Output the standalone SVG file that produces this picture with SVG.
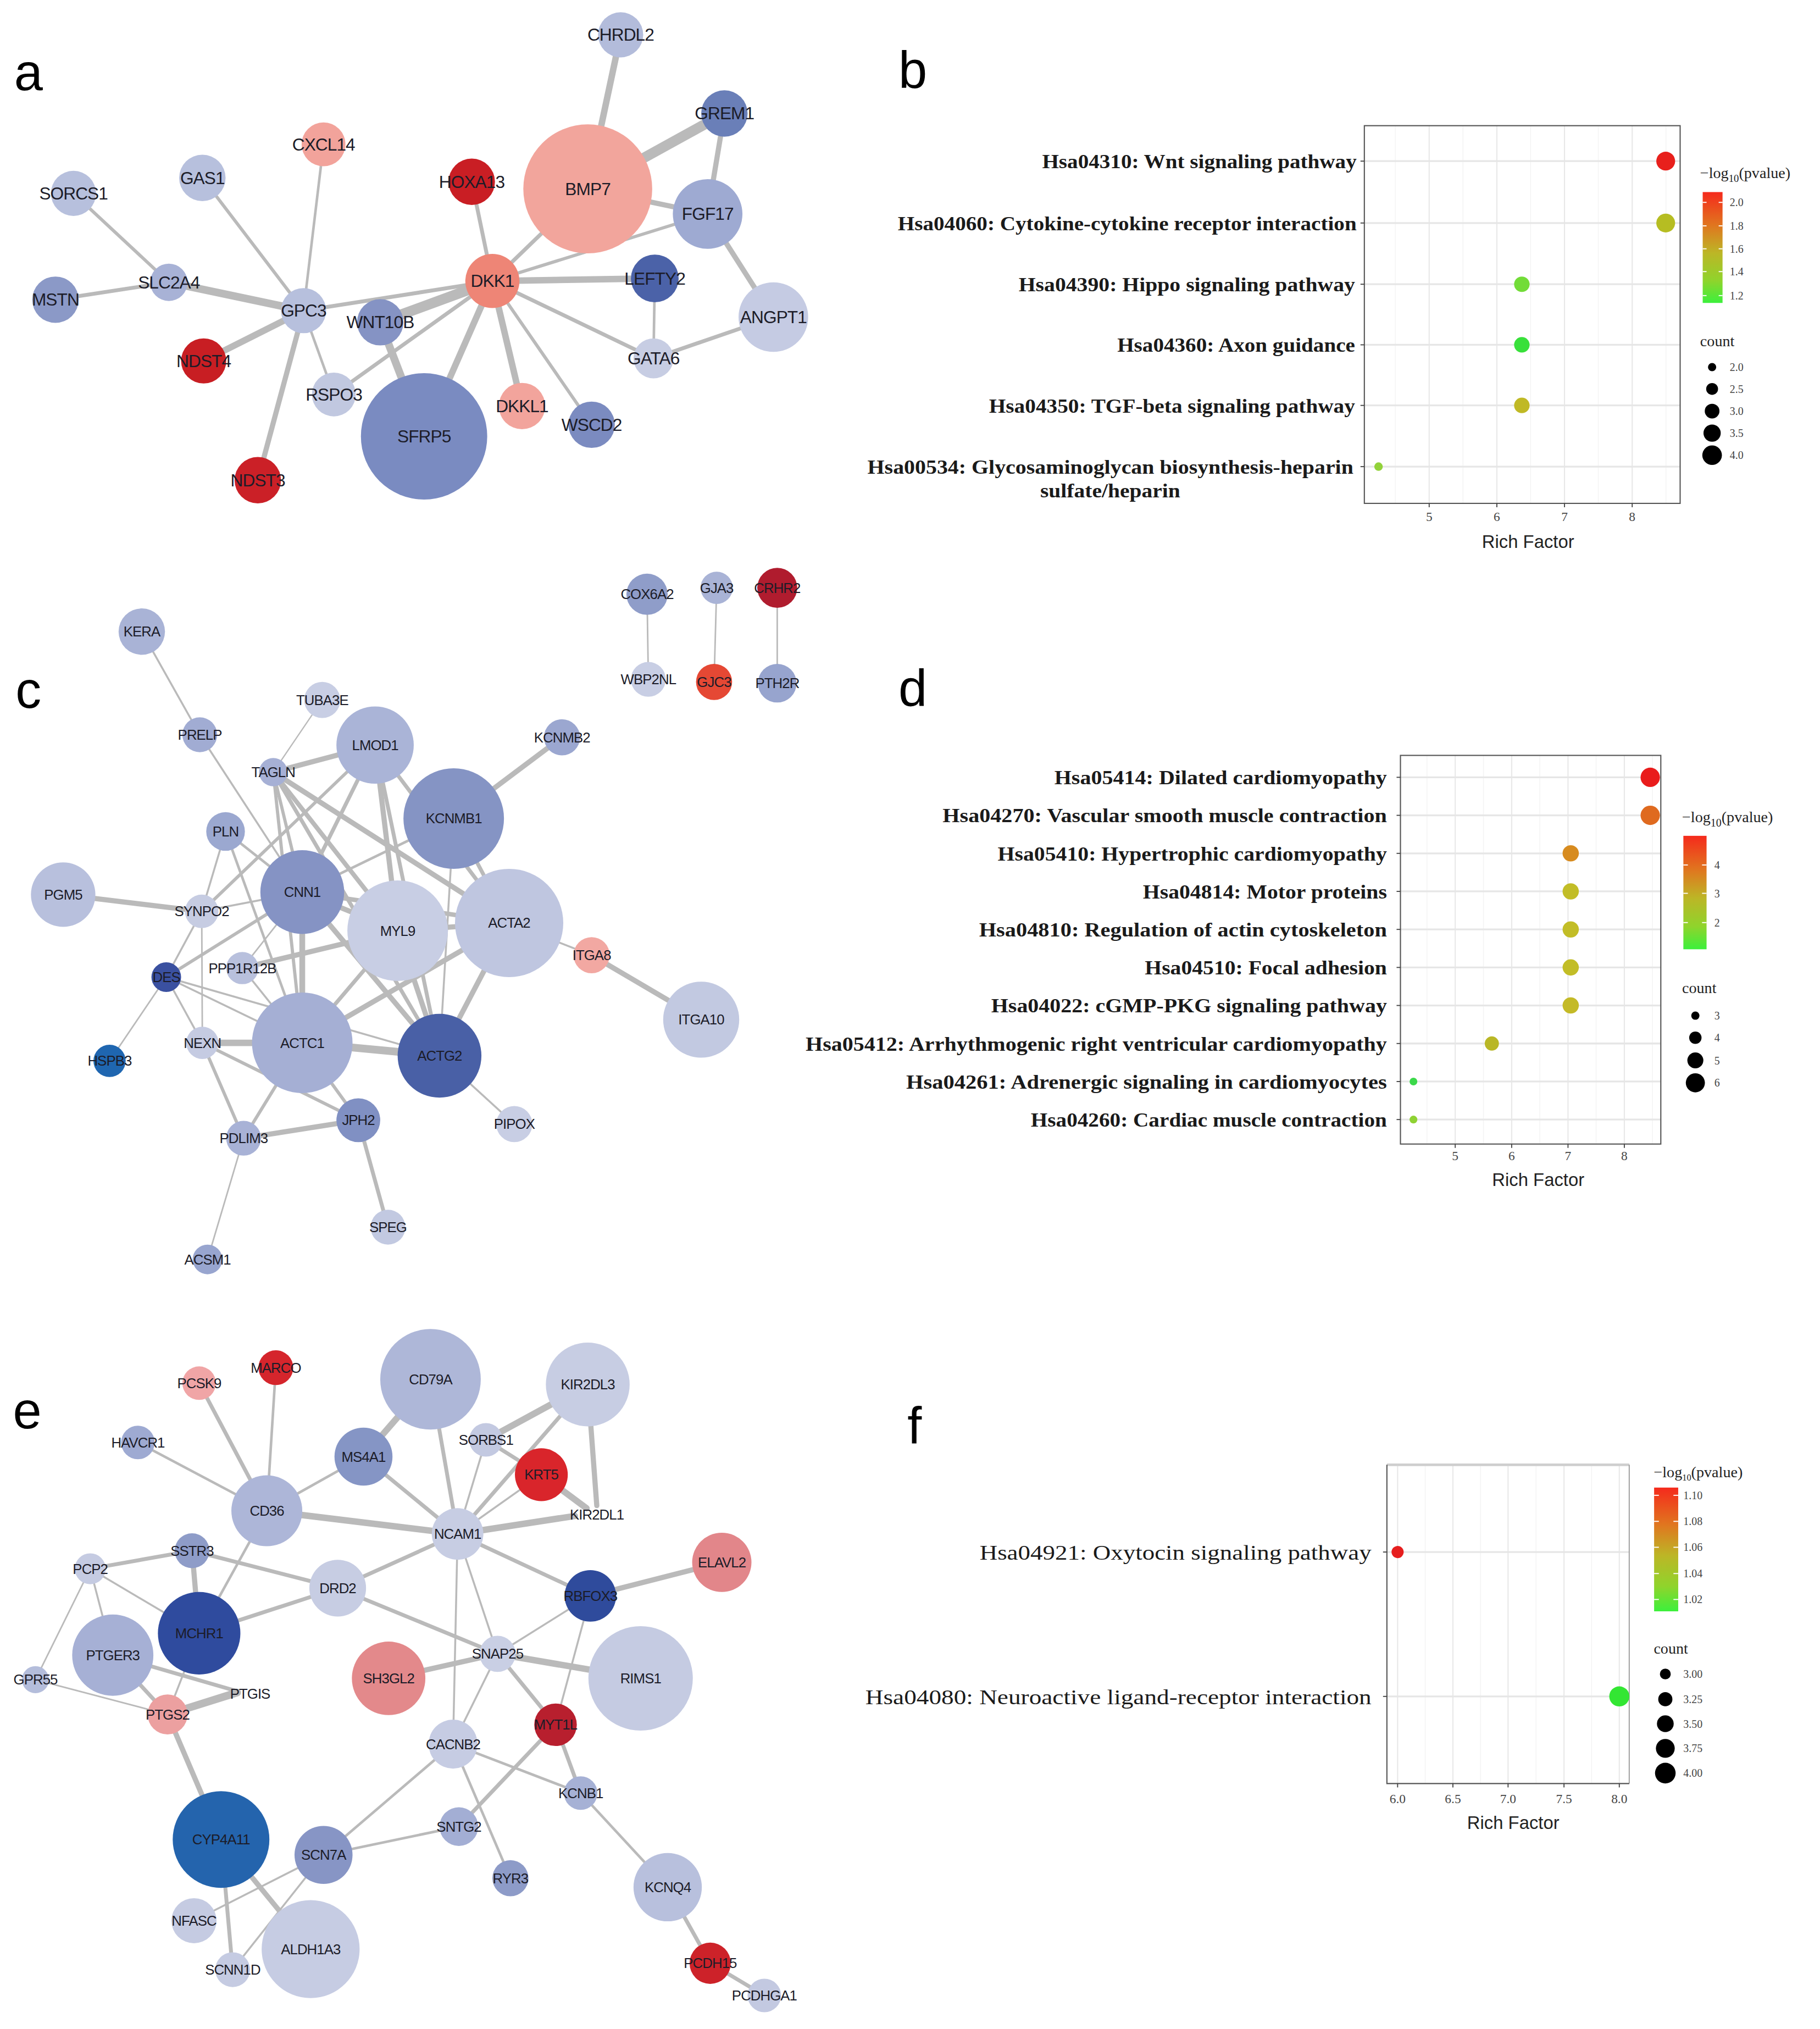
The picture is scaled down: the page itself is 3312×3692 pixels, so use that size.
<svg xmlns="http://www.w3.org/2000/svg" width="3312" height="3692" viewBox="0 0 3312 3692">
<style>
.cn line{stroke:#bababa;stroke-linecap:round}
.nd text{font-family:"Liberation Sans",Arial,sans-serif;text-anchor:middle;dominant-baseline:central;fill:#1c1c28;letter-spacing:-0.4px}
.na text{font-size:13.5px}
.nc text,.ne text{font-size:11px}
.pl{font-family:"Liberation Sans",Arial,sans-serif;font-size:40px;fill:#000}
.lab{font-family:"Liberation Serif","Times New Roman",serif;font-weight:bold;font-size:15.5px;text-anchor:end;fill:#1a1a1a}
.labf{font-family:"Liberation Serif","Times New Roman",serif;font-size:16.5px;text-anchor:end;fill:#1a1a1a}
.tk{font-family:"Liberation Serif","Times New Roman",serif;font-size:10px;text-anchor:middle;fill:#444}
.lg{font-family:"Liberation Serif","Times New Roman",serif;font-size:8.5px;fill:#444}
.lt{font-family:"Liberation Serif","Times New Roman",serif;font-size:12px;fill:#222}
.axt{font-family:"Liberation Sans",Arial,sans-serif;font-size:14px;text-anchor:middle;fill:#222}
.gM{stroke:#e8e8e8;stroke-width:0.9}
.gm{stroke:#f3f3f3;stroke-width:0.6}
.gr{stroke:#e6e6e6;stroke-width:1.4}
.bx{fill:none;stroke:#555;stroke-width:0.9}
.tm{stroke:#444;stroke-width:0.8}
</style>
<defs>
<linearGradient id="cb" x1="0" y1="0" x2="0" y2="1">
<stop offset="0" stop-color="#f52a1c"/>
<stop offset="0.3" stop-color="#e0761f"/>
<stop offset="0.55" stop-color="#bcb626"/>
<stop offset="0.8" stop-color="#8fd42c"/>
<stop offset="1" stop-color="#3cf03c"/>
</linearGradient>
</defs>
<rect width="3312" height="3692" fill="#fff"/>
<g transform="scale(2.3456)">

<text class="pl" x="11" y="70">a</text>
<text class="pl" x="697" y="68">b</text>
<text class="pl" x="12" y="549">c</text>
<text class="pl" x="697" y="548">d</text>
<text class="pl" x="10" y="1108">e</text>
<text class="pl" x="704" y="1120">f</text>

<g id="connectors" class="cn">
<g id="edges-a">
<line x1="481.5" y1="27" x2="456" y2="146.5" stroke-width="5"/>
<line x1="562" y1="88" x2="456" y2="146.5" stroke-width="8"/>
<line x1="562" y1="88" x2="549" y2="166" stroke-width="4"/>
<line x1="456" y1="146.5" x2="549" y2="166" stroke-width="4"/>
<line x1="549" y1="166" x2="600" y2="246" stroke-width="4"/>
<line x1="549" y1="166" x2="382" y2="218" stroke-width="2.5"/>
<line x1="456" y1="146.5" x2="382" y2="218" stroke-width="3"/>
<line x1="366" y1="141" x2="382" y2="218" stroke-width="3"/>
<line x1="382" y1="218" x2="508" y2="216" stroke-width="5"/>
<line x1="382" y1="218" x2="507" y2="278" stroke-width="3"/>
<line x1="508" y1="216" x2="507" y2="278" stroke-width="2"/>
<line x1="507" y1="278" x2="600" y2="246" stroke-width="3"/>
<line x1="382" y1="218" x2="459" y2="329.5" stroke-width="2.5"/>
<line x1="382" y1="218" x2="405" y2="315" stroke-width="5"/>
<line x1="382" y1="218" x2="329" y2="338.5" stroke-width="5"/>
<line x1="382" y1="218" x2="295" y2="250" stroke-width="8"/>
<line x1="382" y1="218" x2="235.5" y2="241" stroke-width="3"/>
<line x1="382" y1="218" x2="259" y2="306" stroke-width="3"/>
<line x1="295" y1="250" x2="329" y2="338.5" stroke-width="6"/>
<line x1="235.5" y1="241" x2="131" y2="219" stroke-width="6"/>
<line x1="131" y1="219" x2="43" y2="232.5" stroke-width="3"/>
<line x1="131" y1="219" x2="57" y2="150" stroke-width="2.5"/>
<line x1="235.5" y1="241" x2="157" y2="138" stroke-width="2.5"/>
<line x1="235.5" y1="241" x2="251" y2="112" stroke-width="2"/>
<line x1="235.5" y1="241" x2="158" y2="280" stroke-width="5"/>
<line x1="235.5" y1="241" x2="200" y2="372.5" stroke-width="4"/>
<line x1="235.5" y1="241" x2="259" y2="306" stroke-width="2"/>
</g>
<g id="edges-c">
<line x1="502" y1="461" x2="503" y2="527" stroke-width="1.2"/>
<line x1="556" y1="456" x2="554" y2="529" stroke-width="1.2"/>
<line x1="603" y1="456" x2="603" y2="530" stroke-width="1.2"/>
<line x1="110" y1="490" x2="155" y2="570" stroke-width="1.5"/>
<line x1="155" y1="570" x2="234.5" y2="692" stroke-width="1.5"/>
<line x1="250" y1="543" x2="212" y2="599" stroke-width="1"/>
<line x1="212" y1="599" x2="291" y2="578" stroke-width="4"/>
<line x1="212" y1="599" x2="234.5" y2="692" stroke-width="2.5"/>
<line x1="212" y1="599" x2="308.5" y2="722" stroke-width="3.5"/>
<line x1="212" y1="599" x2="395" y2="716" stroke-width="4"/>
<line x1="212" y1="599" x2="341" y2="819" stroke-width="3"/>
<line x1="212" y1="599" x2="234.5" y2="809" stroke-width="2.5"/>
<line x1="291" y1="578" x2="234.5" y2="692" stroke-width="3"/>
<line x1="291" y1="578" x2="308.5" y2="722" stroke-width="4"/>
<line x1="291" y1="578" x2="395" y2="716" stroke-width="3"/>
<line x1="291" y1="578" x2="341" y2="819" stroke-width="3"/>
<line x1="291" y1="578" x2="156.5" y2="707" stroke-width="2.5"/>
<line x1="436" y1="572" x2="352" y2="635" stroke-width="4"/>
<line x1="352" y1="635" x2="234.5" y2="692" stroke-width="2"/>
<line x1="352" y1="635" x2="395" y2="716" stroke-width="3"/>
<line x1="352" y1="635" x2="341" y2="819" stroke-width="1.5"/>
<line x1="234.5" y1="692" x2="308.5" y2="722" stroke-width="4"/>
<line x1="234.5" y1="692" x2="395" y2="716" stroke-width="3.5"/>
<line x1="234.5" y1="692" x2="341" y2="819" stroke-width="4"/>
<line x1="234.5" y1="692" x2="234.5" y2="809" stroke-width="4.5"/>
<line x1="234.5" y1="692" x2="175" y2="645" stroke-width="2"/>
<line x1="234.5" y1="692" x2="156.5" y2="707" stroke-width="1.5"/>
<line x1="234.5" y1="692" x2="129" y2="758" stroke-width="2.5"/>
<line x1="234.5" y1="692" x2="188" y2="751" stroke-width="1.2"/>
<line x1="308.5" y1="722" x2="395" y2="716" stroke-width="4"/>
<line x1="308.5" y1="722" x2="341" y2="819" stroke-width="4"/>
<line x1="308.5" y1="722" x2="234.5" y2="809" stroke-width="3"/>
<line x1="308.5" y1="722" x2="188" y2="751" stroke-width="4"/>
<line x1="395" y1="716" x2="341" y2="819" stroke-width="4"/>
<line x1="395" y1="716" x2="234.5" y2="809" stroke-width="4"/>
<line x1="395" y1="716" x2="459" y2="741" stroke-width="1.5"/>
<line x1="459" y1="741" x2="544" y2="791" stroke-width="4"/>
<line x1="234.5" y1="809" x2="341" y2="819" stroke-width="6"/>
<line x1="234.5" y1="809" x2="157" y2="809" stroke-width="5"/>
<line x1="234.5" y1="809" x2="278" y2="869" stroke-width="2.5"/>
<line x1="234.5" y1="809" x2="189" y2="883" stroke-width="2.5"/>
<line x1="234.5" y1="809" x2="129" y2="758" stroke-width="1.5"/>
<line x1="341" y1="819" x2="399" y2="872" stroke-width="1.5"/>
<line x1="341" y1="819" x2="129" y2="758" stroke-width="1.5"/>
<line x1="157" y1="809" x2="278" y2="869" stroke-width="2.5"/>
<line x1="175" y1="645" x2="156.5" y2="707" stroke-width="1.5"/>
<line x1="175" y1="645" x2="234.5" y2="809" stroke-width="2"/>
<line x1="49" y1="694" x2="156.5" y2="707" stroke-width="4"/>
<line x1="156.5" y1="707" x2="129" y2="758" stroke-width="1.5"/>
<line x1="156.5" y1="707" x2="157" y2="809" stroke-width="1.2"/>
<line x1="129" y1="758" x2="85" y2="823" stroke-width="1.2"/>
<line x1="129" y1="758" x2="157" y2="809" stroke-width="1.5"/>
<line x1="157" y1="809" x2="189" y2="883" stroke-width="2.5"/>
<line x1="189" y1="883" x2="278" y2="869" stroke-width="4"/>
<line x1="189" y1="883" x2="161" y2="977" stroke-width="1.2"/>
<line x1="278" y1="869" x2="301" y2="952" stroke-width="3"/>
<line x1="188" y1="751" x2="234.5" y2="809" stroke-width="1.5"/>
</g>
<g id="edges-e">
<line x1="154.5" y1="1073" x2="207" y2="1172" stroke-width="3"/>
<line x1="214" y1="1061" x2="207" y2="1172" stroke-width="2"/>
<line x1="107" y1="1119" x2="207" y2="1172" stroke-width="2"/>
<line x1="282" y1="1130" x2="207" y2="1172" stroke-width="2"/>
<line x1="282" y1="1130" x2="334" y2="1070" stroke-width="5"/>
<line x1="282" y1="1130" x2="355" y2="1190" stroke-width="3"/>
<line x1="334" y1="1070" x2="355" y2="1190" stroke-width="3"/>
<line x1="377" y1="1117" x2="355" y2="1190" stroke-width="1.5"/>
<line x1="377" y1="1117" x2="420" y2="1144" stroke-width="3"/>
<line x1="456" y1="1074" x2="377" y2="1117" stroke-width="5"/>
<line x1="456" y1="1074" x2="355" y2="1190" stroke-width="3"/>
<line x1="456" y1="1074" x2="463" y2="1168" stroke-width="4"/>
<line x1="420" y1="1144" x2="355" y2="1190" stroke-width="1.5"/>
<line x1="420" y1="1144" x2="455" y2="1170" stroke-width="5"/>
<line x1="355" y1="1190" x2="446" y2="1176" stroke-width="5"/>
<line x1="207" y1="1172" x2="355" y2="1190" stroke-width="5"/>
<line x1="207" y1="1172" x2="154.5" y2="1267" stroke-width="2"/>
<line x1="355" y1="1190" x2="262" y2="1232" stroke-width="3"/>
<line x1="355" y1="1190" x2="458" y2="1238" stroke-width="3"/>
<line x1="355" y1="1190" x2="386" y2="1283" stroke-width="1.5"/>
<line x1="355" y1="1190" x2="351.5" y2="1353" stroke-width="1.5"/>
<line x1="458" y1="1238" x2="560" y2="1212" stroke-width="4"/>
<line x1="458" y1="1238" x2="386" y2="1283" stroke-width="1.5"/>
<line x1="458" y1="1238" x2="431" y2="1338" stroke-width="1.5"/>
<line x1="149" y1="1203" x2="70" y2="1217" stroke-width="3"/>
<line x1="149" y1="1203" x2="154.5" y2="1267" stroke-width="4"/>
<line x1="149" y1="1203" x2="262" y2="1232" stroke-width="3"/>
<line x1="70" y1="1217" x2="154.5" y2="1267" stroke-width="1.5"/>
<line x1="70" y1="1217" x2="87.5" y2="1284" stroke-width="1.5"/>
<line x1="70" y1="1217" x2="27.5" y2="1303" stroke-width="1.2"/>
<line x1="154.5" y1="1267" x2="262" y2="1232" stroke-width="3"/>
<line x1="154.5" y1="1267" x2="130" y2="1330" stroke-width="1.5"/>
<line x1="262" y1="1232" x2="386" y2="1283" stroke-width="3"/>
<line x1="386" y1="1283" x2="301.5" y2="1302" stroke-width="4"/>
<line x1="386" y1="1283" x2="497" y2="1302" stroke-width="5"/>
<line x1="386" y1="1283" x2="431" y2="1338" stroke-width="3"/>
<line x1="386" y1="1283" x2="351.5" y2="1353" stroke-width="1.5"/>
<line x1="87.5" y1="1284" x2="184" y2="1312" stroke-width="3"/>
<line x1="87.5" y1="1284" x2="130" y2="1330" stroke-width="3"/>
<line x1="27.5" y1="1303" x2="130" y2="1330" stroke-width="1.2"/>
<line x1="130" y1="1330" x2="184" y2="1313" stroke-width="6"/>
<line x1="130" y1="1330" x2="171.5" y2="1427" stroke-width="4"/>
<line x1="351.5" y1="1353" x2="251" y2="1439" stroke-width="2"/>
<line x1="351.5" y1="1353" x2="450.5" y2="1391" stroke-width="2"/>
<line x1="351.5" y1="1353" x2="396" y2="1457" stroke-width="2"/>
<line x1="431" y1="1338" x2="356" y2="1417" stroke-width="3"/>
<line x1="431" y1="1338" x2="450.5" y2="1391" stroke-width="3"/>
<line x1="356" y1="1417" x2="251" y2="1439" stroke-width="2"/>
<line x1="450.5" y1="1391" x2="518" y2="1464" stroke-width="2"/>
<line x1="518" y1="1464" x2="551" y2="1523" stroke-width="3"/>
<line x1="551" y1="1523" x2="593" y2="1548" stroke-width="3"/>
<line x1="171.5" y1="1427" x2="241" y2="1512" stroke-width="4"/>
<line x1="171.5" y1="1427" x2="180.5" y2="1528" stroke-width="3"/>
<line x1="251" y1="1439" x2="150.5" y2="1490" stroke-width="1.5"/>
<line x1="251" y1="1439" x2="180.5" y2="1528" stroke-width="1.5"/>
</g>
</g>

<g class="nd na">
<g id="a-CHRDL2"><circle cx="481.5" cy="27" r="17.5" fill="#b3bcdb"/><text x="481.5" y="27">CHRDL2</text></g>
<g id="a-GREM1"><circle cx="562" cy="88" r="18" fill="#6a7fb8"/><text x="562" y="88">GREM1</text></g>
<g id="a-BMP7"><circle cx="456" cy="146.5" r="50" fill="#f2a59c"/><text x="456" y="146.5">BMP7</text></g>
<g id="a-FGF17"><circle cx="549" cy="166" r="27" fill="#9eaad2"/><text x="549" y="166">FGF17</text></g>
<g id="a-CXCL14"><circle cx="251" cy="112" r="17" fill="#f2a39b"/><text x="251" y="112">CXCL14</text></g>
<g id="a-HOXA13"><circle cx="366" cy="141" r="18" fill="#c91e24"/><text x="366" y="141">HOXA13</text></g>
<g id="a-GAS1"><circle cx="157" cy="138" r="18" fill="#b7c0dd"/><text x="157" y="138">GAS1</text></g>
<g id="a-SORCS1"><circle cx="57" cy="150" r="17.5" fill="#b7c0dd"/><text x="57" y="150">SORCS1</text></g>
<g id="a-SLC2A4"><circle cx="131" cy="219" r="14.5" fill="#a8b2d6"/><text x="131" y="219">SLC2A4</text></g>
<g id="a-MSTN"><circle cx="43" cy="232.5" r="18" fill="#8b99c7"/><text x="43" y="232.5">MSTN</text></g>
<g id="a-GPC3"><circle cx="235.5" cy="241" r="17.5" fill="#b7c0dd"/><text x="235.5" y="241">GPC3</text></g>
<g id="a-WNT10B"><circle cx="295" cy="250" r="18" fill="#8593c4"/><text x="295" y="250">WNT10B</text></g>
<g id="a-DKK1"><circle cx="382" cy="218" r="21" fill="#ee8576"/><text x="382" y="218">DKK1</text></g>
<g id="a-LEFTY2"><circle cx="508" cy="216" r="18.5" fill="#4b62a8"/><text x="508" y="216">LEFTY2</text></g>
<g id="a-ANGPT1"><circle cx="600" cy="246" r="27" fill="#c5cbe3"/><text x="600" y="246">ANGPT1</text></g>
<g id="a-GATA6"><circle cx="507" cy="278" r="15.5" fill="#c7cde3"/><text x="507" y="278">GATA6</text></g>
<g id="a-NDST4"><circle cx="158" cy="280" r="17.5" fill="#c81e23"/><text x="158" y="280">NDST4</text></g>
<g id="a-RSPO3"><circle cx="259" cy="306" r="17" fill="#c1c8e0"/><text x="259" y="306">RSPO3</text></g>
<g id="a-SFRP5"><circle cx="329" cy="338.5" r="49" fill="#7a8bc1"/><text x="329" y="338.5">SFRP5</text></g>
<g id="a-DKKL1"><circle cx="405" cy="315" r="18" fill="#f2a49c"/><text x="405" y="315">DKKL1</text></g>
<g id="a-WSCD2"><circle cx="459" cy="329.5" r="18" fill="#7b8bc0"/><text x="459" y="329.5">WSCD2</text></g>
<g id="a-NDST3"><circle cx="200" cy="372.5" r="18" fill="#cb2027"/><text x="200" y="372.5">NDST3</text></g>
</g>

<g class="nd nc">
<g id="c-COX6A2"><circle cx="502" cy="461" r="16" fill="#8f9dc9"/><text x="502" y="461">COX6A2</text></g>
<g id="c-GJA3"><circle cx="556" cy="456" r="12.5" fill="#a9b3d6"/><text x="556" y="456">GJA3</text></g>
<g id="c-CRHR2"><circle cx="603" cy="456" r="15.5" fill="#b01c2e"/><text x="603" y="456">CRHR2</text></g>
<g id="c-WBP2NL"><circle cx="503" cy="527" r="13.5" fill="#c8cee4"/><text x="503" y="527">WBP2NL</text></g>
<g id="c-GJC3"><circle cx="554" cy="529" r="14" fill="#e54834"/><text x="554" y="529">GJC3</text></g>
<g id="c-PTH2R"><circle cx="603" cy="530" r="15" fill="#97a4ce"/><text x="603" y="530">PTH2R</text></g>
<g id="c-KERA"><circle cx="110" cy="490" r="18" fill="#a9b3d6"/><text x="110" y="490">KERA</text></g>
<g id="c-PRELP"><circle cx="155" cy="570" r="13.5" fill="#a1acd3"/><text x="155" y="570">PRELP</text></g>
<g id="c-TUBA3E"><circle cx="250" cy="543" r="14" fill="#c8cee4"/><text x="250" y="543">TUBA3E</text></g>
<g id="c-LMOD1"><circle cx="291" cy="578" r="30" fill="#aab4d7"/><text x="291" y="578">LMOD1</text></g>
<g id="c-KCNMB2"><circle cx="436" cy="572" r="14" fill="#9ba7d0"/><text x="436" y="572">KCNMB2</text></g>
<g id="c-TAGLN"><circle cx="212" cy="599" r="11" fill="#a6b0d5"/><text x="212" y="599">TAGLN</text></g>
<g id="c-KCNMB1"><circle cx="352" cy="635" r="39" fill="#8594c4"/><text x="352" y="635">KCNMB1</text></g>
<g id="c-PLN"><circle cx="175" cy="645" r="15" fill="#9ba8d0"/><text x="175" y="645">PLN</text></g>
<g id="c-PGM5"><circle cx="49" cy="694" r="25" fill="#b8c0dd"/><text x="49" y="694">PGM5</text></g>
<g id="c-CNN1"><circle cx="234.5" cy="692" r="32.5" fill="#8593c4"/><text x="234.5" y="692">CNN1</text></g>
<g id="c-SYNPO2"><circle cx="156.5" cy="707" r="13" fill="#c6cce2"/><text x="156.5" y="707">SYNPO2</text></g>
<g id="c-MYL9"><circle cx="308.5" cy="722" r="39" fill="#c8cee4"/><text x="308.5" y="722">MYL9</text></g>
<g id="c-ACTA2"><circle cx="395" cy="716" r="42" fill="#bfc6e0"/><text x="395" y="716">ACTA2</text></g>
<g id="c-ITGA8"><circle cx="459" cy="741" r="14" fill="#f2a8a2"/><text x="459" y="741">ITGA8</text></g>
<g id="c-PPP1R12B"><circle cx="188" cy="751" r="12.5" fill="#b8c0dd"/><text x="188" y="751">PPP1R12B</text></g>
<g id="c-DES"><circle cx="129" cy="758" r="11.5" fill="#3a50a0"/><text x="129" y="758">DES</text></g>
<g id="c-ITGA10"><circle cx="544" cy="791" r="29.5" fill="#c2c9e1"/><text x="544" y="791">ITGA10</text></g>
<g id="c-NEXN"><circle cx="157" cy="809" r="12.5" fill="#c5cbe2"/><text x="157" y="809">NEXN</text></g>
<g id="c-ACTC1"><circle cx="234.5" cy="809" r="39" fill="#a5afd4"/><text x="234.5" y="809">ACTC1</text></g>
<g id="c-ACTG2"><circle cx="341" cy="819" r="32.5" fill="#4960a6"/><text x="341" y="819">ACTG2</text></g>
<g id="c-HSPB3"><circle cx="85" cy="823" r="12.5" fill="#1f66b0"/><text x="85" y="823">HSPB3</text></g>
<g id="c-JPH2"><circle cx="278" cy="869" r="17" fill="#8090c3"/><text x="278" y="869">JPH2</text></g>
<g id="c-PDLIM3"><circle cx="189" cy="883" r="13.5" fill="#a8b2d6"/><text x="189" y="883">PDLIM3</text></g>
<g id="c-PIPOX"><circle cx="399" cy="872" r="14" fill="#c8cee4"/><text x="399" y="872">PIPOX</text></g>
<g id="c-SPEG"><circle cx="301" cy="952" r="13.5" fill="#c2c9e1"/><text x="301" y="952">SPEG</text></g>
<g id="c-ACSM1"><circle cx="161" cy="977" r="11.5" fill="#98a5cf"/><text x="161" y="977">ACSM1</text></g>
</g>

<g class="nd ne">
<g id="e-PCSK9"><circle cx="154.5" cy="1073" r="13" fill="#f0a5a6"/><text x="154.5" y="1073">PCSK9</text></g>
<g id="e-MARCO"><circle cx="214" cy="1061" r="13.5" fill="#d5252c"/><text x="214" y="1061">MARCO</text></g>
<g id="e-CD79A"><circle cx="334" cy="1070" r="39" fill="#aeb7d8"/><text x="334" y="1070">CD79A</text></g>
<g id="e-KIR2DL3"><circle cx="456" cy="1074" r="32.5" fill="#c7cde3"/><text x="456" y="1074">KIR2DL3</text></g>
<g id="e-HAVCR1"><circle cx="107" cy="1119" r="13" fill="#9eaad2"/><text x="107" y="1119">HAVCR1</text></g>
<g id="e-MS4A1"><circle cx="282" cy="1130" r="22.5" fill="#8595c5"/><text x="282" y="1130">MS4A1</text></g>
<g id="e-SORBS1"><circle cx="377" cy="1117" r="13" fill="#c3c9e1"/><text x="377" y="1117">SORBS1</text></g>
<g id="e-KRT5"><circle cx="420" cy="1144" r="20.5" fill="#d9252b"/><text x="420" y="1144">KRT5</text></g>
<g id="e-CD36"><circle cx="207" cy="1172" r="27.5" fill="#adb6d8"/><text x="207" y="1172">CD36</text></g>
<g id="e-KIR2DL1"><text x="463" y="1175">KIR2DL1</text></g>
<g id="e-NCAM1"><circle cx="355" cy="1190" r="20" fill="#c7cde3"/><text x="355" y="1190">NCAM1</text></g>
<g id="e-ELAVL2"><circle cx="560" cy="1212" r="23" fill="#e2868a"/><text x="560" y="1212">ELAVL2</text></g>
<g id="e-PCP2"><circle cx="70" cy="1217" r="12" fill="#c5cbe2"/><text x="70" y="1217">PCP2</text></g>
<g id="e-SSTR3"><circle cx="149" cy="1203" r="13.5" fill="#8e9cc8"/><text x="149" y="1203">SSTR3</text></g>
<g id="e-DRD2"><circle cx="262" cy="1232" r="22" fill="#c7cde3"/><text x="262" y="1232">DRD2</text></g>
<g id="e-RBFOX3"><circle cx="458" cy="1238" r="20" fill="#2f4b9c"/><text x="458" y="1238">RBFOX3</text></g>
<g id="e-MCHR1"><circle cx="154.5" cy="1267" r="32" fill="#2f4b9e"/><text x="154.5" y="1267">MCHR1</text></g>
<g id="e-PTGER3"><circle cx="87.5" cy="1284" r="31.5" fill="#a6b0d5"/><text x="87.5" y="1284">PTGER3</text></g>
<g id="e-GPR55"><circle cx="27.5" cy="1303" r="10.5" fill="#b4bddb"/><text x="27.5" y="1303">GPR55</text></g>
<g id="e-SH3GL2"><circle cx="301.5" cy="1302" r="28.5" fill="#e3898b"/><text x="301.5" y="1302">SH3GL2</text></g>
<g id="e-SNAP25"><circle cx="386" cy="1283" r="14" fill="#c9cfe4"/><text x="386" y="1283">SNAP25</text></g>
<g id="e-RIMS1"><circle cx="497" cy="1302" r="40.5" fill="#c5cbe2"/><text x="497" y="1302">RIMS1</text></g>
<g id="e-PTGIS"><text x="194" y="1314">PTGIS</text></g>
<g id="e-PTGS2"><circle cx="130" cy="1330" r="15.5" fill="#eca0a0"/><text x="130" y="1330">PTGS2</text></g>
<g id="e-MYT1L"><circle cx="431" cy="1338" r="16.5" fill="#b81f2e"/><text x="431" y="1338">MYT1L</text></g>
<g id="e-CACNB2"><circle cx="351.5" cy="1353" r="19" fill="#c6cce3"/><text x="351.5" y="1353">CACNB2</text></g>
<g id="e-KCNB1"><circle cx="450.5" cy="1391" r="13" fill="#a6b1d5"/><text x="450.5" y="1391">KCNB1</text></g>
<g id="e-CYP4A11"><circle cx="171.5" cy="1427" r="37.5" fill="#2464ad"/><text x="171.5" y="1427">CYP4A11</text></g>
<g id="e-SCN7A"><circle cx="251" cy="1439" r="22.5" fill="#8795c5"/><text x="251" y="1439">SCN7A</text></g>
<g id="e-SNTG2"><circle cx="356" cy="1417" r="15" fill="#a3aed4"/><text x="356" y="1417">SNTG2</text></g>
<g id="e-RYR3"><circle cx="396" cy="1457" r="14" fill="#8d9bc8"/><text x="396" y="1457">RYR3</text></g>
<g id="e-KCNQ4"><circle cx="518" cy="1464" r="26.5" fill="#b8c0dd"/><text x="518" y="1464">KCNQ4</text></g>
<g id="e-NFASC"><circle cx="150.5" cy="1490" r="17.5" fill="#c5cbe2"/><text x="150.5" y="1490">NFASC</text></g>
<g id="e-ALDH1A3"><circle cx="241" cy="1512" r="38" fill="#c6cce3"/><text x="241" y="1512">ALDH1A3</text></g>
<g id="e-SCNN1D"><circle cx="180.5" cy="1528" r="13.5" fill="#c5cbe2"/><text x="180.5" y="1528">SCNN1D</text></g>
<g id="e-PCDH15"><circle cx="551" cy="1523" r="16" fill="#cd2229"/><text x="551" y="1523">PCDH15</text></g>
<g id="e-PCDHGA1"><circle cx="593" cy="1548" r="13" fill="#c3c9e1"/><text x="593" y="1548">PCDHGA1</text></g>
</g>

<g id="chart-b">
<rect x="1058.5" y="97.5" width="245" height="293" fill="#fff"/>
<g class="gm"><line x1="1082.5" y1="97.5" x2="1082.5" y2="390.5"/><line x1="1135" y1="97.5" x2="1135" y2="390.5"/><line x1="1187.5" y1="97.5" x2="1187.5" y2="390.5"/><line x1="1240" y1="97.5" x2="1240" y2="390.5"/><line x1="1292.5" y1="97.5" x2="1292.5" y2="390.5"/></g>
<g class="gM"><line x1="1108.8" y1="97.5" x2="1108.8" y2="390.5"/><line x1="1161.3" y1="97.5" x2="1161.3" y2="390.5"/><line x1="1213.8" y1="97.5" x2="1213.8" y2="390.5"/><line x1="1266.3" y1="97.5" x2="1266.3" y2="390.5"/></g>
<g class="gr"><line x1="1058.5" y1="125" x2="1303.5" y2="125"/><line x1="1058.5" y1="173" x2="1303.5" y2="173"/><line x1="1058.5" y1="220.5" x2="1303.5" y2="220.5"/><line x1="1058.5" y1="267.5" x2="1303.5" y2="267.5"/><line x1="1058.5" y1="314.5" x2="1303.5" y2="314.5"/><line x1="1058.5" y1="362" x2="1303.5" y2="362"/></g>
<rect class="bx" x="1058.5" y="97.5" width="245" height="293"/>
<g class="tm"><line x1="1055.5" y1="125" x2="1058.5" y2="125"/><line x1="1055.5" y1="173" x2="1058.5" y2="173"/><line x1="1055.5" y1="220.5" x2="1058.5" y2="220.5"/><line x1="1055.5" y1="267.5" x2="1058.5" y2="267.5"/><line x1="1055.5" y1="314.5" x2="1058.5" y2="314.5"/><line x1="1055.5" y1="362" x2="1058.5" y2="362"/>
<line x1="1108.8" y1="390.5" x2="1108.8" y2="393.5"/><line x1="1161.3" y1="390.5" x2="1161.3" y2="393.5"/><line x1="1213.8" y1="390.5" x2="1213.8" y2="393.5"/><line x1="1266.3" y1="390.5" x2="1266.3" y2="393.5"/></g>
<circle cx="1292.3" cy="125" r="7.3" fill="#e8201c"/>
<circle cx="1292.3" cy="173" r="7.3" fill="#b6bd22"/>
<circle cx="1180.7" cy="220.5" r="6" fill="#72dc38"/>
<circle cx="1180.7" cy="267.5" r="6" fill="#38e03a"/>
<circle cx="1180.7" cy="314.5" r="6" fill="#c0b925"/>
<circle cx="1069.5" cy="362" r="3.3" fill="#92d23a"/>
<text class="lab" x="1052.5" y="130.5" textLength="244" lengthAdjust="spacingAndGlyphs">Hsa04310: Wnt signaling pathway</text>
<text class="lab" x="1052.5" y="178.5" textLength="356" lengthAdjust="spacingAndGlyphs">Hsa04060: Cytokine-cytokine receptor interaction</text>
<text class="lab" x="1051.3" y="226" textLength="261" lengthAdjust="spacingAndGlyphs">Hsa04390: Hippo signaling pathway</text>
<text class="lab" x="1051.3" y="273" textLength="184.5" lengthAdjust="spacingAndGlyphs">Hsa04360: Axon guidance</text>
<text class="lab" x="1051.3" y="320" textLength="284" lengthAdjust="spacingAndGlyphs">Hsa04350: TGF-beta signaling pathway</text>
<text class="lab" x="1050" y="367.5" textLength="377" lengthAdjust="spacingAndGlyphs">Hsa00534: Glycosaminoglycan biosynthesis-heparin</text>
<text class="lab" x="915.7" y="386" textLength="108.7" lengthAdjust="spacingAndGlyphs">sulfate/heparin</text>
<text class="tk" x="1108.8" y="404">5</text><text class="tk" x="1161.3" y="404">6</text><text class="tk" x="1213.8" y="404">7</text><text class="tk" x="1266.3" y="404">8</text>
<text class="axt" x="1185.5" y="425">Rich Factor</text>
<text class="lt" x="1319" y="138">−log<tspan font-size="8" dy="3">10</tspan><tspan dy="-3">(pvalue)</tspan></text>
<rect x="1321" y="149" width="15.4" height="86" fill="url(#cb)"/>
<g stroke="#fff" stroke-width="0.8"><line x1="1321" y1="157" x2="1324" y2="157"/><line x1="1333.4" y1="157" x2="1336.4" y2="157"/><line x1="1321" y1="175.2" x2="1324" y2="175.2"/><line x1="1333.4" y1="175.2" x2="1336.4" y2="175.2"/><line x1="1321" y1="193" x2="1324" y2="193"/><line x1="1333.4" y1="193" x2="1336.4" y2="193"/><line x1="1321" y1="210.7" x2="1324" y2="210.7"/><line x1="1333.4" y1="210.7" x2="1336.4" y2="210.7"/><line x1="1321" y1="229.3" x2="1324" y2="229.3"/><line x1="1333.4" y1="229.3" x2="1336.4" y2="229.3"/></g>
<text class="lg" x="1342" y="160">2.0</text><text class="lg" x="1342" y="178.2">1.8</text><text class="lg" x="1342" y="196">1.6</text><text class="lg" x="1342" y="213.7">1.4</text><text class="lg" x="1342" y="232.3">1.2</text>
<text class="lt" x="1319" y="268.5">count</text>
<circle cx="1328.3" cy="284.8" r="3.2"/><circle cx="1328.3" cy="301.7" r="4.6"/><circle cx="1328.3" cy="318.9" r="5.7"/><circle cx="1328.3" cy="336" r="6.7"/><circle cx="1328.3" cy="353.1" r="7.6"/>
<text class="lg" x="1342" y="287.8">2.0</text><text class="lg" x="1342" y="304.7">2.5</text><text class="lg" x="1342" y="321.9">3.0</text><text class="lg" x="1342" y="339">3.5</text><text class="lg" x="1342" y="356.1">4.0</text>
</g>

<g id="chart-d">
<g class="gm"><line x1="1107.1" y1="586" x2="1107.1" y2="887.5"/><line x1="1150.9" y1="586" x2="1150.9" y2="887.5"/><line x1="1194.6" y1="586" x2="1194.6" y2="887.5"/><line x1="1238.3" y1="586" x2="1238.3" y2="887.5"/><line x1="1282" y1="586" x2="1282" y2="887.5"/></g>
<g class="gM"><line x1="1129" y1="586" x2="1129" y2="887.5"/><line x1="1172.8" y1="586" x2="1172.8" y2="887.5"/><line x1="1216.5" y1="586" x2="1216.5" y2="887.5"/><line x1="1260.2" y1="586" x2="1260.2" y2="887.5"/></g>
<g class="gr"><line x1="1086.5" y1="603" x2="1288.5" y2="603"/><line x1="1086.5" y1="632.5" x2="1288.5" y2="632.5"/><line x1="1086.5" y1="662" x2="1288.5" y2="662"/><line x1="1086.5" y1="691.5" x2="1288.5" y2="691.5"/><line x1="1086.5" y1="721" x2="1288.5" y2="721"/><line x1="1086.5" y1="750.5" x2="1288.5" y2="750.5"/><line x1="1086.5" y1="780" x2="1288.5" y2="780"/><line x1="1086.5" y1="809.5" x2="1288.5" y2="809.5"/><line x1="1086.5" y1="839" x2="1288.5" y2="839"/><line x1="1086.5" y1="868.5" x2="1288.5" y2="868.5"/></g>
<rect class="bx" x="1086.5" y="586" width="202" height="301.5"/>
<g class="tm"><line x1="1083.5" y1="603" x2="1086.5" y2="603"/><line x1="1083.5" y1="632.5" x2="1086.5" y2="632.5"/><line x1="1083.5" y1="662" x2="1086.5" y2="662"/><line x1="1083.5" y1="691.5" x2="1086.5" y2="691.5"/><line x1="1083.5" y1="721" x2="1086.5" y2="721"/><line x1="1083.5" y1="750.5" x2="1086.5" y2="750.5"/><line x1="1083.5" y1="780" x2="1086.5" y2="780"/><line x1="1083.5" y1="809.5" x2="1086.5" y2="809.5"/><line x1="1083.5" y1="839" x2="1086.5" y2="839"/><line x1="1083.5" y1="868.5" x2="1086.5" y2="868.5"/>
<line x1="1129" y1="887.5" x2="1129" y2="890.5"/><line x1="1172.8" y1="887.5" x2="1172.8" y2="890.5"/><line x1="1216.5" y1="887.5" x2="1216.5" y2="890.5"/><line x1="1260.2" y1="887.5" x2="1260.2" y2="890.5"/></g>
<circle cx="1280.3" cy="603" r="7.5" fill="#e91c1c"/>
<circle cx="1280.3" cy="632.5" r="7.5" fill="#df6a1f"/>
<circle cx="1218.6" cy="662" r="6.3" fill="#d78b1f"/>
<circle cx="1218.6" cy="691.5" r="6.3" fill="#c2bd27"/>
<circle cx="1218.6" cy="721" r="6.3" fill="#c2bd27"/>
<circle cx="1218.6" cy="750.5" r="6.3" fill="#c2bd27"/>
<circle cx="1218.6" cy="780" r="6.3" fill="#c4ba27"/>
<circle cx="1157.4" cy="809.5" r="5.5" fill="#b9b726"/>
<circle cx="1096.6" cy="839" r="3" fill="#3bd84a"/>
<circle cx="1096.6" cy="868.5" r="3" fill="#8fd233"/>
<text class="lab" x="1076" y="608.5" textLength="258" lengthAdjust="spacingAndGlyphs">Hsa05414: Dilated cardiomyopathy</text>
<text class="lab" x="1076" y="638" textLength="344.7" lengthAdjust="spacingAndGlyphs">Hsa04270: Vascular smooth muscle contraction</text>
<text class="lab" x="1076" y="667.5" textLength="302" lengthAdjust="spacingAndGlyphs">Hsa05410: Hypertrophic cardiomyopathy</text>
<text class="lab" x="1076" y="697" textLength="189.3" lengthAdjust="spacingAndGlyphs">Hsa04814: Motor proteins</text>
<text class="lab" x="1076" y="726.5" textLength="316.4" lengthAdjust="spacingAndGlyphs">Hsa04810: Regulation of actin cytoskeleton</text>
<text class="lab" x="1076" y="756" textLength="187.8" lengthAdjust="spacingAndGlyphs">Hsa04510: Focal adhesion</text>
<text class="lab" x="1076" y="785.5" textLength="307" lengthAdjust="spacingAndGlyphs">Hsa04022: cGMP-PKG signaling pathway</text>
<text class="lab" x="1076" y="815" textLength="451" lengthAdjust="spacingAndGlyphs">Hsa05412: Arrhythmogenic right ventricular cardiomyopathy</text>
<text class="lab" x="1076" y="844.5" textLength="373" lengthAdjust="spacingAndGlyphs">Hsa04261: Adrenergic signaling in cardiomyocytes</text>
<text class="lab" x="1076" y="874" textLength="276.3" lengthAdjust="spacingAndGlyphs">Hsa04260: Cardiac muscle contraction</text>
<text class="tk" x="1129" y="900" font-size="9">5</text><text class="tk" x="1172.8" y="900" font-size="9">6</text><text class="tk" x="1216.5" y="900" font-size="9">7</text><text class="tk" x="1260.2" y="900" font-size="9">8</text>
<text class="axt" x="1193.4" y="920">Rich Factor</text>
<text class="lt" x="1305" y="638" font-size="12.5">−log<tspan font-size="8.5" dy="3">10</tspan><tspan dy="-3">(pvalue)</tspan></text>
<rect x="1306" y="648.4" width="18" height="88" fill="url(#cb)"/>
<g stroke="#fff" stroke-width="0.8"><line x1="1306" y1="671" x2="1309.5" y2="671"/><line x1="1320.5" y1="671" x2="1324" y2="671"/><line x1="1306" y1="693" x2="1309.5" y2="693"/><line x1="1320.5" y1="693" x2="1324" y2="693"/><line x1="1306" y1="715.7" x2="1309.5" y2="715.7"/><line x1="1320.5" y1="715.7" x2="1324" y2="715.7"/></g>
<text class="lg" x="1330" y="674">4</text><text class="lg" x="1330" y="696">3</text><text class="lg" x="1330" y="718.7">2</text>
<text class="lt" x="1305" y="770.5" font-size="12.5">count</text>
<circle cx="1315.3" cy="787.9" r="3.2"/><circle cx="1315.3" cy="805" r="4.8"/><circle cx="1315.3" cy="822.6" r="6.2"/><circle cx="1315.3" cy="840" r="7.4"/>
<text class="lg" x="1330" y="790.9">3</text><text class="lg" x="1330" y="808">4</text><text class="lg" x="1330" y="825.6">5</text><text class="lg" x="1330" y="843">6</text>
</g>

<g id="chart-f">
<g class="gm"><line x1="1105.7" y1="1136.3" x2="1105.7" y2="1383.6"/><line x1="1148.6" y1="1136.3" x2="1148.6" y2="1383.6"/><line x1="1191.7" y1="1136.3" x2="1191.7" y2="1383.6"/><line x1="1234.8" y1="1136.3" x2="1234.8" y2="1383.6"/></g>
<g class="gM"><line x1="1084.3" y1="1136.3" x2="1084.3" y2="1383.6"/><line x1="1127.2" y1="1136.3" x2="1127.2" y2="1383.6"/><line x1="1170" y1="1136.3" x2="1170" y2="1383.6"/><line x1="1213.4" y1="1136.3" x2="1213.4" y2="1383.6"/><line x1="1256.3" y1="1136.3" x2="1256.3" y2="1383.6"/></g>
<g class="gr"><line x1="1076" y1="1204" x2="1264" y2="1204"/><line x1="1076" y1="1316" x2="1264" y2="1316"/></g>
<line x1="1076" y1="1136.3" x2="1264" y2="1136.3" stroke="#cfcfcf" stroke-width="2"/>
<line x1="1264" y1="1136.3" x2="1264" y2="1383.6" stroke="#9a9a9a" stroke-width="0.8"/>
<polyline points="1076,1136.3 1076,1383.6 1264,1383.6" fill="none" stroke="#555" stroke-width="0.9"/>
<g class="tm"><line x1="1073" y1="1204" x2="1076" y2="1204"/><line x1="1073" y1="1316" x2="1076" y2="1316"/>
<line x1="1084.3" y1="1383.6" x2="1084.3" y2="1386.6"/><line x1="1127.2" y1="1383.6" x2="1127.2" y2="1386.6"/><line x1="1170" y1="1383.6" x2="1170" y2="1386.6"/><line x1="1213.4" y1="1383.6" x2="1213.4" y2="1386.6"/><line x1="1256.3" y1="1383.6" x2="1256.3" y2="1386.6"/></g>
<circle cx="1084.3" cy="1204" r="4.7" fill="#e61e1e"/>
<circle cx="1256.3" cy="1316" r="7.8" fill="#33e633"/>
<text class="labf" x="1064" y="1210" textLength="304" lengthAdjust="spacingAndGlyphs">Hsa04921: Oxytocin signaling pathway</text>
<text class="labf" x="1064" y="1322" textLength="392.6" lengthAdjust="spacingAndGlyphs">Hsa04080: Neuroactive ligand-receptor interaction</text>
<text class="tk" x="1084.3" y="1399" font-size="12">6.0</text><text class="tk" x="1127.2" y="1399" font-size="12">6.5</text><text class="tk" x="1170" y="1399" font-size="12">7.0</text><text class="tk" x="1213.4" y="1399" font-size="12">7.5</text><text class="tk" x="1256.3" y="1399" font-size="12">8.0</text>
<text class="axt" x="1174" y="1419">Rich Factor</text>
<text class="lt" x="1283" y="1146" font-size="10">−log<tspan font-size="7" dy="2.5">10</tspan><tspan dy="-2.5">(pvalue)</tspan></text>
<rect x="1283.3" y="1154" width="18.7" height="96" fill="url(#cb)"/>
<g stroke="#fff" stroke-width="0.8"><line x1="1283.3" y1="1160" x2="1287" y2="1160"/><line x1="1298.3" y1="1160" x2="1302" y2="1160"/><line x1="1283.3" y1="1180.2" x2="1287" y2="1180.2"/><line x1="1298.3" y1="1180.2" x2="1302" y2="1180.2"/><line x1="1283.3" y1="1200.3" x2="1287" y2="1200.3"/><line x1="1298.3" y1="1200.3" x2="1302" y2="1200.3"/><line x1="1283.3" y1="1220.7" x2="1287" y2="1220.7"/><line x1="1298.3" y1="1220.7" x2="1302" y2="1220.7"/><line x1="1283.3" y1="1240.8" x2="1287" y2="1240.8"/><line x1="1298.3" y1="1240.8" x2="1302" y2="1240.8"/></g>
<text class="lg" x="1306" y="1163" font-size="9">1.10</text><text class="lg" x="1306" y="1183.2" font-size="9">1.08</text><text class="lg" x="1306" y="1203.3" font-size="9">1.06</text><text class="lg" x="1306" y="1223.7" font-size="9">1.04</text><text class="lg" x="1306" y="1243.8" font-size="9">1.02</text>
<text class="lt" x="1283" y="1283" font-size="10">count</text>
<circle cx="1292" cy="1298.6" r="4.2"/><circle cx="1292" cy="1318.2" r="5.5"/><circle cx="1292" cy="1337.2" r="6.5"/><circle cx="1292" cy="1356.3" r="7.3"/><circle cx="1292" cy="1375.5" r="8"/>
<text class="lg" x="1306" y="1301.6" font-size="9">3.00</text><text class="lg" x="1306" y="1321.2" font-size="9">3.25</text><text class="lg" x="1306" y="1340.2" font-size="9">3.50</text><text class="lg" x="1306" y="1359.3" font-size="9">3.75</text><text class="lg" x="1306" y="1378.5" font-size="9">4.00</text>
</g>
</g>
</svg>
